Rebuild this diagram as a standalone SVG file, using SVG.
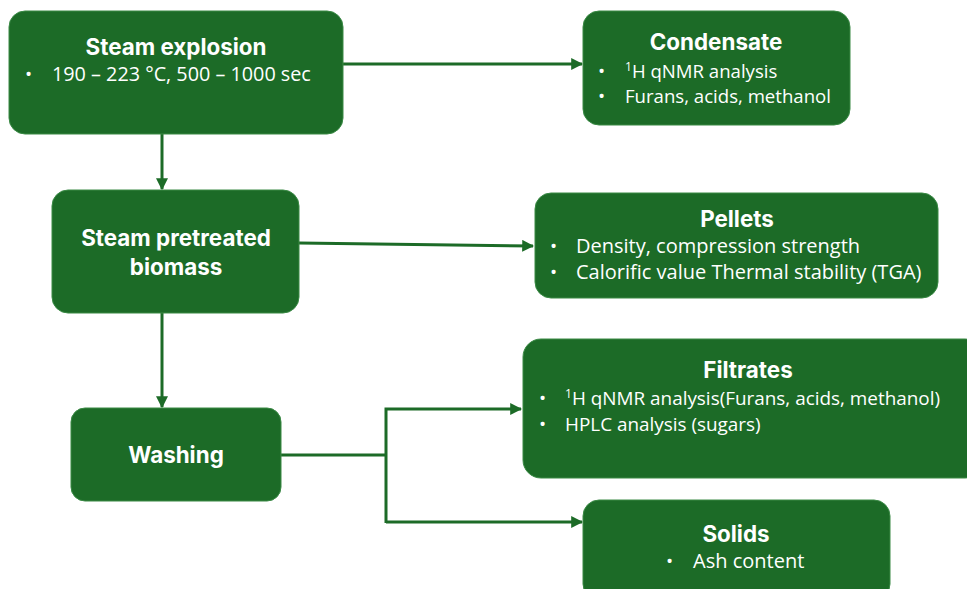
<svg xmlns="http://www.w3.org/2000/svg" width="967" height="589" viewBox="0 0 967 589">
<defs>
<marker id="arr" viewBox="0 0 10 10" refX="9" refY="5" markerWidth="4" markerHeight="4" orient="auto" markerUnits="strokeWidth">
<path d="M0,0 L10,5 L0,10 z" fill="#1c6b27"/>
</marker>
<style>
.box{fill:#1c6b27;stroke:#3a8a45;stroke-width:1}
.t{font-family:Inter,"Noto Sans",sans-serif;font-weight:700;font-size:22.4px;fill:#ffffff;text-anchor:middle}
.b{font-family:"Open Sans","Noto Sans",sans-serif;fill:#ffffff}
.sup{font-size:12px}
.c{fill:none;stroke:#1c6b27;stroke-width:3}
</style>
</defs>
<rect width="967" height="589" fill="#ffffff"/>
<g id="connectors">
<line class="c" x1="343" y1="64" x2="582" y2="64" marker-end="url(#arr)"/>
<line class="c" x1="162" y1="134" x2="162" y2="189" marker-end="url(#arr)"/>
<line class="c" x1="299" y1="243" x2="533" y2="246" marker-end="url(#arr)"/>
<line class="c" x1="162" y1="313" x2="162" y2="407" marker-end="url(#arr)"/>
<polyline class="c" points="281,455 386,455"/>
<polyline class="c" points="386,523 386,409 521,409" marker-end="url(#arr)"/>
<polyline class="c" points="386,522 582,522" marker-end="url(#arr)"/>
</g>
<g id="steam-explosion">
<rect class="box" x="9" y="11" width="334" height="123" rx="16"/>
<text class="t" x="176" y="55">Steam explosion</text>
<text class="b" x="25" y="81" font-size="19">•</text>
<text class="b" x="52" y="81" font-size="19.8">190 – 223 °C, 500 – 1000 sec</text>
</g>
<g id="condensate">
<rect class="box" x="583" y="11" width="267" height="114" rx="16"/>
<text class="t" x="716" y="50">Condensate</text>
<text class="b" x="598" y="78" font-size="19">•</text>
<text class="b" x="625" y="78" font-size="18.6"><tspan class="sup" dy="-7">1</tspan><tspan dy="7">H qNMR analysis</tspan></text>
<text class="b" x="598" y="103" font-size="19">•</text>
<text class="b" x="625" y="103" font-size="18.6">Furans, acids, methanol</text>
</g>
<g id="steam-pretreated-biomass">
<rect class="box" x="52" y="190" width="247" height="123" rx="16"/>
<text class="t" x="176" y="246">Steam pretreated</text>
<text class="t" x="176" y="275">biomass</text>
</g>
<g id="pellets">
<rect class="box" x="535" y="193" width="403" height="105" rx="16"/>
<text class="t" x="737" y="227">Pellets</text>
<text class="b" x="550" y="253" font-size="19">•</text>
<text class="b" x="576" y="253" font-size="20">Density, compression strength</text>
<text class="b" x="550" y="279" font-size="19">•</text>
<text class="b" x="576" y="279" font-size="20">Calorific value Thermal stability (TGA)</text>
</g>
<g id="washing">
<rect class="box" x="71" y="408" width="210" height="93" rx="14"/>
<text class="t" x="176" y="463">Washing</text>
</g>
<g id="filtrates">
<rect class="box" x="523" y="339" width="460" height="139" rx="18"/>
<text class="t" x="748" y="378">Filtrates</text>
<text class="b" x="539" y="405" font-size="19">•</text>
<text class="b" x="565" y="405" font-size="18.9"><tspan class="sup" dy="-7">1</tspan><tspan dy="7">H qNMR analysis(Furans, acids, methanol)</tspan></text>
<text class="b" x="539" y="431" font-size="19">•</text>
<text class="b" x="565" y="431" font-size="18.9">HPLC analysis (sugars)</text>
</g>
<g id="solids">
<rect class="box" x="583" y="500" width="307" height="100" rx="16"/>
<text class="t" x="736" y="542">Solids</text>
<text class="b" x="666" y="568" font-size="19">•</text>
<text class="b" x="693" y="568" font-size="20">Ash content</text>
</g>
</svg>
